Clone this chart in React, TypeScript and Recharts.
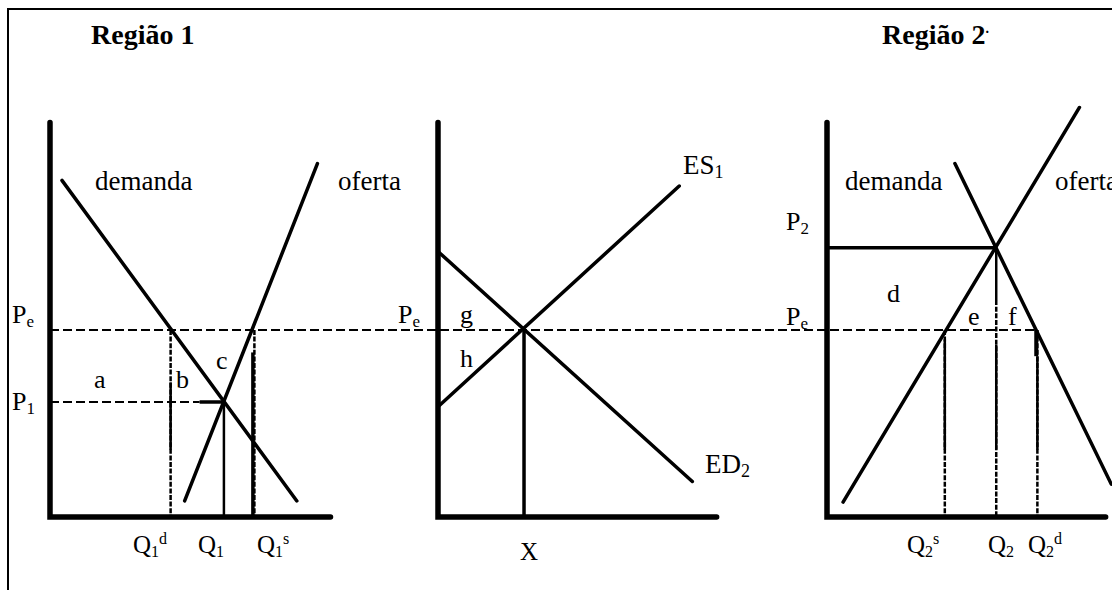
import React from 'react';
import { ComposedChart, Line, XAxis, YAxis } from 'recharts';

type Pt = { q: number; p: number };

const W = 1112;
const H = 590;
const K = 18.7; // px per unit, Pe = 10

// price / quantity levels
const PE = 10;
const P1 = 6.15;
const P2 = 14.4;
const Q1D = 6.45;
const Q1 = 9.3;
const Q1S = 10.85;
const XTRADE = 4.6;
const Q2S = 6.3;
const Q2 = 9.05;
const Q2D = 11.25;
const AXIS_P = 21.1;
const AXIS_Q = [15.0, 14.9, 14.9];

// curves
const demand1: Pt[] = [{ q: 0.64, p: 18.0 }, { q: 13.2, p: 0.86 }];
const supply1: Pt[] = [{ q: 7.2, p: 0.86 }, { q: 14.3, p: 18.9 }];
const ed2: Pt[] = [{ q: 0, p: 14.2 }, { q: 13.6, p: 1.9 }];
const es1: Pt[] = [{ q: 0, p: 5.9 }, { q: 12.9, p: 17.7 }];
const demand2: Pt[] = [{ q: 6.84, p: 18.9 }, { q: 15.2, p: 1.76 }];
const supply2: Pt[] = [{ q: 0.86, p: 0.8 }, { q: 13.5, p: 21.9 }];

// panel origins (layout, px)
const ORIGINS = [[50, 517], [438, 517], [827, 517]];

const toG = (panel: number, pts: Pt[]) =>
  pts.map(pt => ({ x: ORIGINS[panel][0] / K + pt.q, y: (H - ORIGINS[panel][1]) / K + pt.p }));

type Seg = { pts: { x: number; y: number }[]; w: number; dash?: string; cap?: 'round' | 'butt' };

const DOT = '5 1.6';
const DASH = '9 4';

function buildSegments(): Seg[] {
  const s: Seg[] = [];
  const add = (panel: number, pts: Pt[], w: number, dash?: string, cap: 'round' | 'butt' = 'butt') =>
    s.push({ pts: toG(panel, pts), w, dash, cap });

  // axes
  [0, 1, 2].forEach(i =>
    add(i, [{ q: 0, p: AXIS_P }, { q: 0, p: 0 }, { q: AXIS_Q[i], p: 0 }], 5.5, undefined, 'round'),
  );

  // Pe dashed across all panels
  s.push({ pts: [...toG(0, [{ q: 0, p: PE }]), ...toG(2, [{ q: Q2D, p: PE }])], w: 2, dash: DASH });

  // Região 1
  add(0, [{ q: 0, p: P1 }, { q: 8.0, p: P1 }], 2, DASH);
  add(0, [{ q: 8.0, p: P1 }, { q: Q1, p: P1 }], 3.5);
  add(0, [{ q: Q1D, p: PE }, { q: Q1D, p: 0 }], 2.5, DOT);
  add(0, [{ q: Q1D, p: 7.2 }, { q: Q1D, p: 3.6 }], 2.5);
  add(0, [{ q: Q1, p: P1 }, { q: Q1, p: 0 }], 2.5);
  add(0, [{ q: Q1S + 0.08, p: PE }, { q: Q1S + 0.08, p: 0 }], 2.5, DOT);
  add(0, [{ q: Q1S, p: 8.8 }, { q: Q1S, p: 0 }], 3.5);

  // comércio
  add(1, [{ q: XTRADE, p: PE }, { q: XTRADE, p: 0 }], 3.5);

  // Região 2
  add(2, [{ q: 0, p: P2 }, { q: Q2, p: P2 }], 3.5);
  add(2, [{ q: Q2, p: P2 }, { q: Q2, p: 11.6 }], 2.5);
  add(2, [{ q: Q2, p: 11.6 }, { q: Q2, p: 0 }], 2.5, DOT);
  add(2, [{ q: Q2, p: 9.2 }, { q: Q2, p: 3.6 }], 2.5);
  add(2, [{ q: Q2S, p: PE }, { q: Q2S, p: 0 }], 2.5, DOT);
  add(2, [{ q: Q2S, p: 9.5 }, { q: Q2S, p: 3.6 }], 2.5);
  add(2, [{ q: Q2D, p: PE }, { q: Q2D, p: 0 }], 2.5, DOT);
  add(2, [{ q: Q2D - 0.06, p: PE }, { q: Q2D - 0.06, p: 8.6 }], 4);
  add(2, [{ q: Q2D, p: 8.6 }, { q: Q2D, p: 3.6 }], 2.5);

  // curves on top
  add(0, demand1, 3.5, undefined, 'round');
  add(0, supply1, 3.5, undefined, 'round');
  add(1, ed2, 3.5, undefined, 'round');
  add(1, es1, 3.5, undefined, 'round');
  add(2, demand2, 3.5, undefined, 'round');
  add(2, supply2, 3.5, undefined, 'round');
  return s;
}

const FONT = "'Liberation Serif', 'Times New Roman', serif";

function Sym({ x, y, base, sub, sup, size = 26 }: { x: number; y: number; base: string; sub?: string; sup?: string; size?: number }) {
  const small = Math.round(size * 0.65);
  return (
    <text x={x} y={y} fontSize={size}>
      {base}
      {sub && <tspan fontSize={small} dy={4}>{sub}</tspan>}
      {sup && <tspan fontSize={small} dy={-13}>{sup}</tspan>}
    </text>
  );
}

export default function App() {
  const segs = buildSegments();
  return (
    <div style={{ position: 'absolute', left: 0, top: 0, width: W, height: H, background: '#fff', overflow: 'hidden' }}>
      <div style={{ position: 'absolute', left: 7, top: 8, width: W, height: 580, borderLeft: '2px solid #000', borderTop: '2px solid #000' }} />
      <div style={{ position: 'absolute', left: 0, top: 0 }}>
        <ComposedChart width={W} height={H} margin={{ top: 0, right: 0, bottom: 0, left: 0 }}>
          <XAxis type="number" dataKey="x" domain={[0, W / K]} hide allowDataOverflow />
          <YAxis type="number" dataKey="y" domain={[0, H / K]} hide allowDataOverflow />
          {segs.map((sg, i) => (
            <Line
              key={i}
              data={sg.pts}
              dataKey="y"
              type="linear"
              stroke="#000"
              strokeWidth={sg.w}
              strokeDasharray={sg.dash}
              strokeLinecap={sg.cap}
              strokeLinejoin="miter"
              dot={false}
              activeDot={false}
              isAnimationActive={false}
            />
          ))}
        </ComposedChart>
      </div>
      <svg width={W} height={H} style={{ position: 'absolute', left: 0, top: 0, pointerEvents: 'none', fontFamily: FONT }}>
        <text x={91} y={44} fontSize={28} fontWeight="bold">Região 1</text>
        <text x={882} y={44} fontSize={28} fontWeight="bold">
          Região 2<tspan fontSize={14} dy={-11}>.</tspan>
        </text>

        <text x={95} y={190} fontSize={27}>demanda</text>
        <text x={338} y={190} fontSize={27}>oferta</text>
        <text x={845} y={190} fontSize={27}>demanda</text>
        <text x={1055} y={190} fontSize={27}>oferta</text>

        <Sym x={12} y={323} base="P" sub="e" />
        <Sym x={12} y={410} base="P" sub="1" />
        <text x={94} y={388} fontSize={26}>a</text>
        <text x={176} y={388} fontSize={26}>b</text>
        <text x={216} y={369} fontSize={26}>c</text>
        <Sym x={133} y={553} base="Q" sub="1" sup="d" size={25} />
        <Sym x={198} y={553} base="Q" sub="1" size={25} />
        <Sym x={257} y={553} base="Q" sub="1" sup="s" size={25} />

        <Sym x={398} y={323} base="P" sub="e" />
        <text x={460} y={323} fontSize={26}>g</text>
        <text x={460} y={367} fontSize={26}>h</text>
        <Sym x={683} y={174} base="ES" sub="1" size={27} />
        <Sym x={705} y={473} base="ED" sub="2" size={27} />
        <text x={520} y={560} fontSize={25}>X</text>

        <Sym x={786} y={230} base="P" sub="2" />
        <Sym x={786} y={325} base="P" sub="e" />
        <text x={887} y={302} fontSize={26}>d</text>
        <text x={968} y={325} fontSize={26}>e</text>
        <text x={1008} y={325} fontSize={26}>f</text>
        <Sym x={907} y={553} base="Q" sub="2" sup="s" size={25} />
        <Sym x={988} y={553} base="Q" sub="2" size={25} />
        <Sym x={1028} y={553} base="Q" sub="2" sup="d" size={25} />
      </svg>
    </div>
  );
}
